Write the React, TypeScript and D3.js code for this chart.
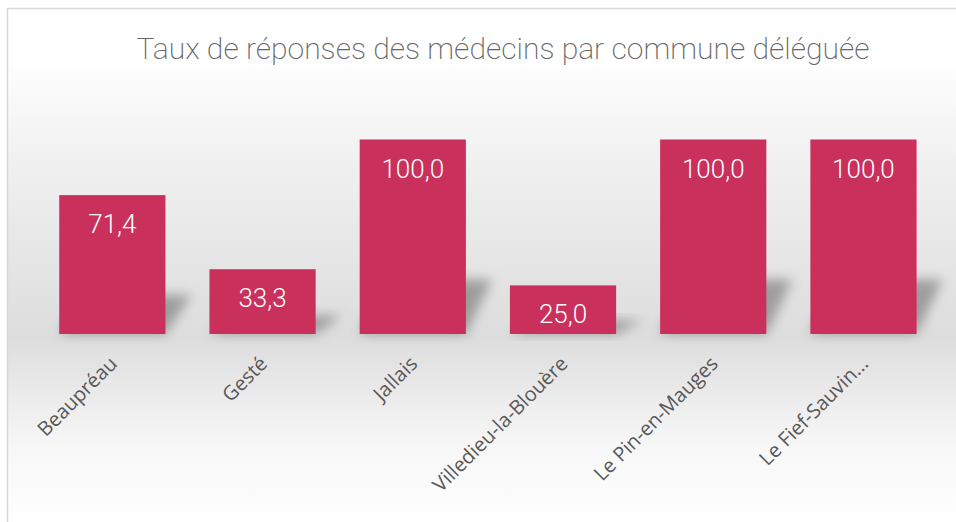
import React from 'react';
import * as d3 from 'd3';

const communes = ['Beaupréau', 'Gesté', 'Jallais', 'Villedieu-la-Blouère', 'Le Pin-en-Mauges', 'Le Fief-Sauvin...'];
const taux = [71.4, 33.3, 100.0, 25.0, 100.0, 100.0];
const title = 'Taux de réponses des médecins par commune déléguée';

const W = 956;
const H = 522;

const App: React.FC = () => {
    const x = d3.scaleBand<string>()
        .domain(communes)
        .range([37.3, 938.5])
        .paddingInner(0.293)
        .paddingOuter(0.146);

    const y = d3.scaleLinear()
        .domain([0, 100])
        .range([334, 139.5]);

    const fmt = (v: number) => d3.format('.1f')(v).replace('.', ',');

    return (
        <svg width={W} height={H} style={{ position: 'absolute', left: 0, top: 0 }}>
            <defs>
                <linearGradient id="bg" x1="0" y1="0" x2="0" y2="1">
                    <stop offset="0" stopColor="#ffffff" />
                    <stop offset="0.1" stopColor="#ffffff" />
                    <stop offset="0.3" stopColor="#f0f0f0" />
                    <stop offset="0.64" stopColor="#dddddd" />
                    <stop offset="0.85" stopColor="#f7f7f7" />
                    <stop offset="1" stopColor="#ffffff" />
                </linearGradient>
                <filter id="blur" x="-50%" y="-50%" width="200%" height="200%">
                    <feGaussianBlur stdDeviation="6" />
                </filter>
            </defs>
            <rect x={8} y={8.5} width={W - 8} height={H - 8} fill="url(#bg)" />
            <line x1={8} x2={W} y1={8.5} y2={8.5} stroke="#d9d9d9" strokeWidth={1.5} />
            <line x1={7.5} x2={7.5} y1={8} y2={H} stroke="#d9d9d9" strokeWidth={1.5} />

            <text x={503} y={59} textAnchor="middle" fontFamily="Roboto" fontWeight={200}
                  fontSize={30} fill="#666666" textLength={733} lengthAdjust="spacingAndGlyphs">
                {title}
            </text>

            {/* ombres en perspective */}
            {communes.map((c, i) => {
                const x0 = x(c)!;
                const x1 = x0 + x.bandwidth();
                const base = y(0);
                const h = (base - y(taux[i])) * 0.28;
                const pts = [[x0, base], [x1, base], [x1 + 26, base - h], [x0 + 26, base - h]];
                return (
                    <polygon key={'s' + c} points={pts.map(p => p.join(',')).join(' ')}
                             fill="#808080" opacity={0.7} filter="url(#blur)" />
                );
            })}

            {communes.map((c, i) => (
                <g key={c}>
                    <rect x={x(c)} y={y(taux[i])} width={x.bandwidth()} height={y(0) - y(taux[i])}
                          fill="#c9305b" />
                    <text x={x(c)! + x.bandwidth() / 2} y={y(taux[i]) + 38} textAnchor="middle"
                          fontFamily="Roboto" fontWeight={300} fontSize={26} fill="#ffffff">
                        {fmt(taux[i])}
                    </text>
                </g>
            ))}

            {communes.map(c => {
                const cx = x(c)! + x.bandwidth() / 2 + 6;
                const cy = 365;
                return (
                    <text key={'l' + c} transform={`translate(${cx},${cy}) rotate(-45)`}
                          textAnchor="end" fontFamily="Open Sans" fontSize={20} fill="#595959">
                        {c}
                    </text>
                );
            })}
        </svg>
    );
};

export default App;
